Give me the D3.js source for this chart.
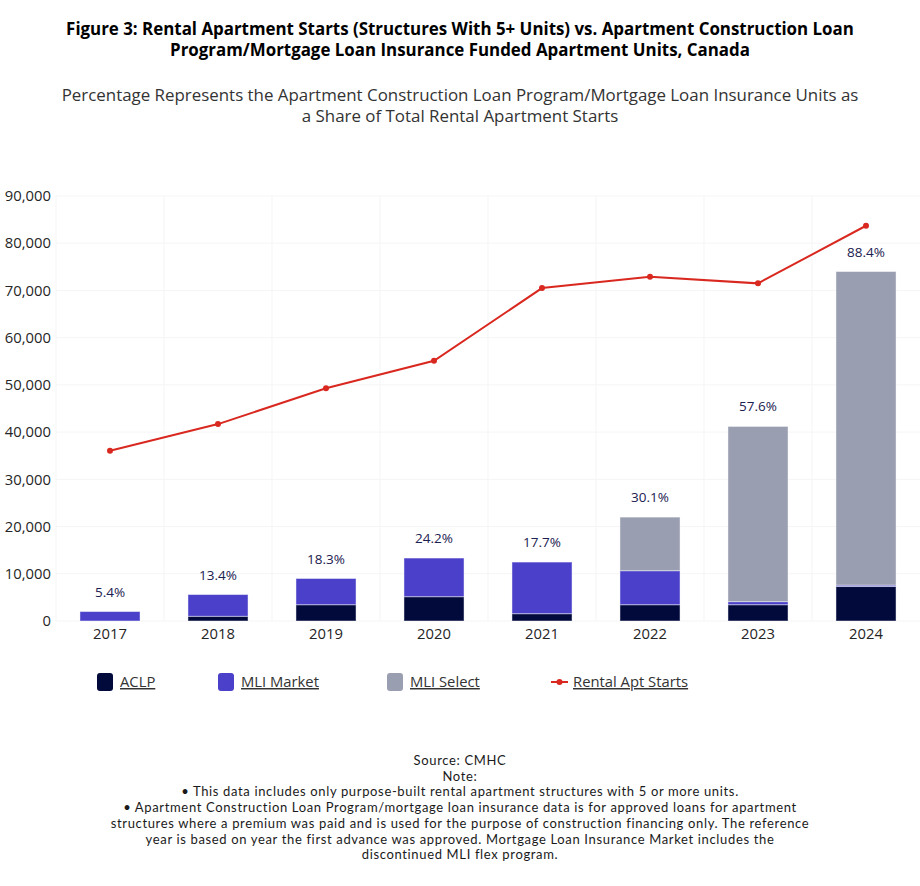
<!DOCTYPE html>
<html>
<head>
<meta charset="utf-8">
<script src="https://cdn.jsdelivr.net/npm/d3@7/dist/d3.min.js"></script>
<style>
  html, body { margin: 0; padding: 0; background: #fff; }
  svg { display: block; font-family: "Open Sans", "Noto Sans", sans-serif; }
</style>
</head>
<body>
<svg id="chart" width="920" height="886"></svg>
<script>
const years = ["2017", "2018", "2019", "2020", "2021", "2022", "2023", "2024"];
const aclp = [0, 1000, 3450, 5150, 1550, 3450, 3450, 7300];
const mliMarket = [2000, 4600, 5550, 8180, 10930, 7200, 650, 300];
const mliSelect = [0, 0, 0, 0, 0, 11350, 37100, 66400];
const rentalStarts = [36050, 41700, 49300, 55100, 70500, 72900, 71500, 83700];
const shareLabels = ["5.4%", "13.4%", "18.3%", "24.2%", "17.7%", "30.1%", "57.6%", "88.4%"];
const yTicks = [0, 10000, 20000, 30000, 40000, 50000, 60000, 70000, 80000, 90000];
const seriesNames = ["ACLP", "MLI Market", "MLI Select"];
const seriesColors = ["#020a3c", "#4a40c9", "#999eb0"];
const lineName = "Rental Apt Starts";
const lineColor = "#d9281f";

const titleLines = [
  "Figure 3: Rental Apartment Starts (Structures With 5+ Units) vs. Apartment Construction Loan",
  "Program/Mortgage Loan Insurance Funded Apartment Units, Canada"
];
const subtitleLines = [
  "Percentage Represents the Apartment Construction Loan Program/Mortgage Loan Insurance Units as",
  "a Share of Total Rental Apartment Starts"
];
const footerLines = [
  "Source: CMHC",
  "Note:",
  "• This data includes only purpose-built rental apartment structures with 5 or more units.",
  "• Apartment Construction Loan Program/mortgage loan insurance data is for approved loans for apartment",
  "structures where a premium was paid and is used for the purpose of construction financing only. The reference",
  "year is based on year the first advance was approved. Mortgage Loan Insurance Market includes the",
  "discontinued MLI flex program."
];

const svg = d3.select("#chart");
const W = 920;
const plot = { left: 56, right: 920, top: 196, bottom: 621 };

// Titles
svg.append("g").selectAll("text").data(titleLines).join("text")
  .attr("x", W / 2).attr("y", (d, i) => 35 + i * 21)
  .attr("text-anchor", "middle")
  .attr("font-size", 16.9).attr("font-weight", "bold").attr("fill", "#000")
  .text(d => d);

svg.append("g").selectAll("text").data(subtitleLines).join("text")
  .attr("x", W / 2).attr("y", (d, i) => 101 + i * 21)
  .attr("text-anchor", "middle")
  .attr("font-size", 16.9).attr("fill", "#333")
  .text(d => d);

// Scales
const x = d3.scaleBand().domain(years).range([plot.left, plot.right]).paddingInner(0.444).paddingOuter(0.222);
const xCenter = d3.scaleBand().domain(years).range([plot.left, plot.right]);
const y = d3.scaleLinear().domain([0, 90000]).range([plot.bottom, plot.top]);

// Grid
const grid = svg.append("g");
grid.selectAll("line.h").data(yTicks).join("line")
  .attr("x1", plot.left).attr("x2", plot.right)
  .attr("y1", d => y(d)).attr("y2", d => y(d))
  .attr("stroke", "#f5f5f5").attr("stroke-width", 1);
grid.selectAll("line.v").data(years).join("line")
  .attr("x1", d => xCenter(d)).attr("x2", d => xCenter(d))
  .attr("y1", plot.top).attr("y2", plot.bottom)
  .attr("stroke", "#f5f5f5").attr("stroke-width", 1);

// Y axis
const yAxis = d3.axisLeft(y).tickValues(yTicks).tickFormat(d3.format(",")).tickSize(0).tickPadding(5);
const yg = svg.append("g").attr("transform", `translate(${plot.left},0)`).call(yAxis);
yg.select(".domain").remove();
yg.selectAll("text").attr("font-size", 14.8).attr("fill", "#252525").attr("font-family", "'Open Sans', sans-serif");

// X axis
const xAxis = d3.axisBottom(xCenter).tickSize(0).tickPadding(7);
const xg = svg.append("g").attr("transform", `translate(0,${plot.bottom})`).call(xAxis);
xg.select(".domain").remove();
xg.selectAll("text").attr("font-size", 14.8).attr("fill", "#252525").attr("font-family", "'Open Sans', sans-serif");

// Stacked bars
const table = years.map((yr, i) => ({ year: yr, ACLP: aclp[i], "MLI Market": mliMarket[i], "MLI Select": mliSelect[i] }));
const stack = d3.stack().keys(seriesNames)(table);
const color = d3.scaleOrdinal().domain(seriesNames).range(seriesColors);

svg.append("g").selectAll("g").data(stack).join("g")
  .attr("fill", d => color(d.key))
  .selectAll("rect").data(d => d.filter(p => p[1] - p[0] > 0)).join("rect")
  .attr("x", d => x(d.data.year))
  .attr("width", x.bandwidth())
  .attr("y", d => y(d[1]))
  .attr("height", d => y(d[0]) - y(d[1]))
  .attr("stroke", "rgba(255,255,255,0.45)")
  .attr("stroke-width", 1);

// Share labels
svg.append("g").selectAll("text").data(table).join("text")
  .attr("x", d => xCenter(d.year) + xCenter.bandwidth() / 2)
  .attr("y", d => y(d.ACLP + d["MLI Market"] + d["MLI Select"]) - 15)
  .attr("text-anchor", "middle")
  .attr("font-size", 13.5).attr("fill", "#1b2150")
  .text((d, i) => shareLabels[i]);

// Line
const cx = i => xCenter(years[i]) + xCenter.bandwidth() / 2;
const line = d3.line().x((d, i) => cx(i)).y(d => y(d));
svg.append("path").datum(rentalStarts)
  .attr("d", line).attr("fill", "none")
  .attr("stroke", lineColor).attr("stroke-width", 2);
svg.append("g").selectAll("circle").data(rentalStarts).join("circle")
  .attr("cx", (d, i) => cx(i)).attr("cy", d => y(d)).attr("r", 3)
  .attr("fill", lineColor);

// Legend
const legendItems = [
  { name: seriesNames[0], color: seriesColors[0], type: "rect", x: 97 },
  { name: seriesNames[1], color: seriesColors[1], type: "rect", x: 218 },
  { name: seriesNames[2], color: seriesColors[2], type: "rect", x: 387 },
  { name: lineName, color: lineColor, type: "line", x: 551 }
];
const lg = svg.append("g").selectAll("g").data(legendItems).join("g")
  .attr("transform", d => `translate(${d.x},682)`);
lg.filter(d => d.type === "rect").append("rect")
  .attr("x", 0).attr("y", -9).attr("width", 16).attr("height", 18).attr("rx", 3)
  .attr("fill", d => d.color);
lg.filter(d => d.type === "line").append("line")
  .attr("x1", 0).attr("x2", 17).attr("y1", 0).attr("y2", 0)
  .attr("stroke", d => d.color).attr("stroke-width", 2);
lg.filter(d => d.type === "line").append("circle")
  .attr("cx", 8.5).attr("cy", 0).attr("r", 3).attr("fill", d => d.color);
lg.append("text")
  .attr("x", d => d.type === "rect" ? 23 : 22).attr("y", 5)
  .attr("font-size", 14.8).attr("fill", "#333")
  .attr("text-decoration", "underline")
  .text(d => d.name);

// Footer
svg.append("g").selectAll("text").data(footerLines).join("text")
  .attr("x", W / 2).attr("y", (d, i) => 765 + i * 15.7)
  .attr("text-anchor", "middle")
  .attr("font-family", "Lato, sans-serif")
  .attr("letter-spacing", "0.65px")
  .attr("font-size", 13).attr("fill", "#1a1a1a")
  .text(d => d);
</script>
</body>
</html>
